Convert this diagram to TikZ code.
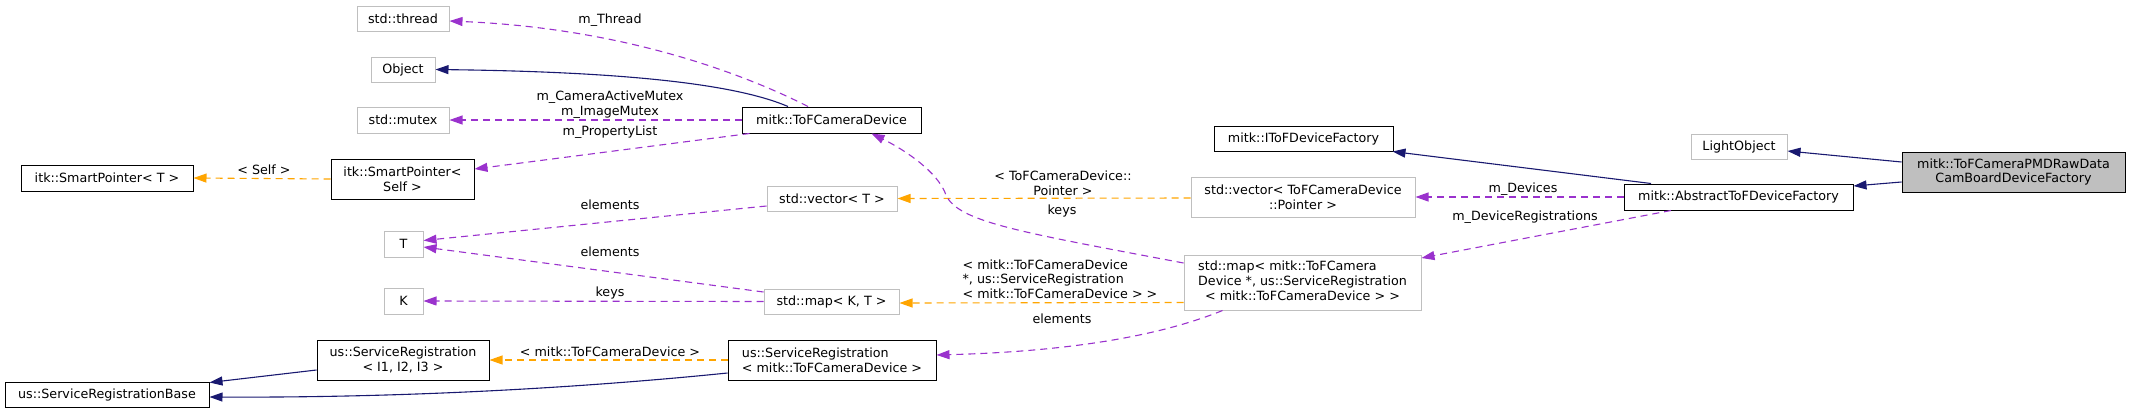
\documentclass[tikz,border=0pt]{standalone}
\usepackage{fontspec}
\setmainfont{DejaVu Sans}
\usetikzlibrary{arrows.meta}
\definecolor{navy}{HTML}{191970}
\definecolor{orchid}{HTML}{9A32CD}
\definecolor{orng}{HTML}{FFA500}
\definecolor{greyS}{HTML}{BFBFBF}
\newcommand\fsz{\fontsize{12.7}{14.7}\selectfont}
\begin{document}
\begin{tikzpicture}[x=1pt,y=-1pt,
  box/.style={rectangle, inner sep=0pt, line width=1pt, font=\fsz, align=center},
  ubox/.style={box, draw=greyS},
  dbox/.style={box, draw=black},
  lbl/.style={inner sep=0pt, font=\fsz, align=center},
  tip/.style={-{Triangle[length=13pt,width=9pt]}},
  inh/.style={tip, draw=navy, line width=1.1pt},
  use/.style={tip, draw=orchid, line width=1.1pt, dash pattern=on 7pt off 5pt},
  tmpl/.style={tip, draw=orng, line width=1.1pt, dash pattern=on 7pt off 5pt}]
\useasboundingbox (0,0) rectangle (2131,413);
% nodes
\node[ubox, minimum width=92pt, minimum height=25pt] (thread) at (403,18.5) {std::thread};
\node[ubox, minimum width=64pt, minimum height=25pt] (object) at (403,69.5) {Object};
\node[ubox, minimum width=92pt, minimum height=26pt] (mutex) at (403,120) {std::mutex};
\node[dbox, minimum width=172pt, minimum height=26pt] (spT) at (107,178) {itk::SmartPointer< T >};
\node[dbox, minimum width=143pt, minimum height=40pt] (spSelf) at (402.5,179) {itk::SmartPointer<\\Self >};
\node[dbox, minimum width=179pt, minimum height=26pt] (tofdev) at (831.5,120) {mitk::ToFCameraDevice};
\node[ubox, minimum width=130pt, minimum height=25pt] (vecT) at (832,198.5) {std::vector< T >};
\node[ubox, minimum width=39pt, minimum height=26pt] (T) at (403.5,244) {T};
\node[ubox, minimum width=39pt, minimum height=26pt] (K) at (403.5,301) {K};
\node[ubox, minimum width=135pt, minimum height=25pt] (mapKT) at (831.5,301.5) {std::map< K, T >};
\node[dbox, minimum width=172pt, minimum height=40pt] (srI) at (403,360) {us::ServiceRegistration\\< I1, I2, I3 >};
\node[dbox, minimum width=204pt, minimum height=25pt] (srBase) at (107,394.5) {us::ServiceRegistrationBase};
\node[dbox, minimum width=208pt, minimum height=40pt, align=left] (srMitk) at (832,360) {us::ServiceRegistration\\< mitk::ToFCameraDevice >};
\node[dbox, minimum width=179pt, minimum height=25pt] (itof) at (1303.5,138.5) {mitk::IToFDeviceFactory};
\node[ubox, minimum width=224pt, minimum height=40pt] (vecP) at (1303,197) {std::vector< ToFCameraDevice\\::Pointer >};
\node[ubox, minimum width=237pt, minimum height=55pt] (mapM) at (1302.5,282.5) {\begin{tabular}{@{}l@{}}std::map< mitk::ToFCamera\\Device *, us::ServiceRegistration\\\multicolumn{1}{@{}c@{}}{< mitk::ToFCameraDevice > >}\end{tabular}};
\node[ubox, minimum width=96pt, minimum height=25pt] (light) at (1739,146.5) {LightObject};
\node[dbox, fill=greyS, minimum width=223pt, minimum height=40pt] (main) at (2013.5,172) {mitk::ToFCameraPMDRawData\\CamBoardDeviceFactory};
\node[dbox, minimum width=229pt, minimum height=26pt] (abstract) at (1738.5,197) {mitk::AbstractToFDeviceFactory};
% edges
\draw[inh] ([shift={(0,-10)}]main.west) -- ([shift={(0,4.5)}]light.east);
\draw[inh] ([shift={(0,10)}]main.west) -- ([shift={(0,-11)}]abstract.east);
\draw[inh] ([shift={(-87.5,0)}]abstract.north) -- ([shift={(-1,0)}]itof.south east);
\draw[use] (abstract.west) -- (vecP.east);
\draw[use] ([shift={(-67.5,0)}]abstract.south) -- ([shift={(0,-24.5)}]mapM.east);
\draw[tmpl] ([shift={(0,1)}]vecP.west) -- (vecT.east);
\draw[tmpl] ([shift={(0,20)}]mapM.west) -- ([shift={(0,1.5)}]mapKT.east);
\draw[use] ([shift={(0,-19.5)}]mapM.west) .. controls (1020,232) and (958,222) .. (946,195) .. controls (938,172) and (905,150) .. ([shift={(40,0)}]tofdev.south);
\draw[use] ([shift={(-80,0)}]mapM.south) .. controls (1150,340) and (1050,352) .. ([shift={(0,-5)}]srMitk.east);
\draw[tmpl] (srMitk.west) -- (srI.east);
\draw[inh] ([shift={(0,13)}]srMitk.west) .. controls (600,386) and (420,398) .. ([shift={(0,2.5)}]srBase.east);
\draw[inh] ([shift={(0,10)}]srI.west) -- ([shift={(0,-12)}]srBase.east);
\draw[use] ([shift={(0,-9.5)}]mapKT.west) -- ([shift={(0,3)}]T.east);
\draw[use] (mapKT.west) -- (K.east);
\draw[use] ([shift={(0,7.5)}]vecT.west) -- ([shift={(0,-3.5)}]T.east);
\draw[use] ([shift={(-23.5,0)}]tofdev.north) .. controls (740,72) and (620,28) .. ([shift={(0,2.5)}]thread.east);
\draw[inh] ([shift={(-43.5,0)}]tofdev.north) .. controls (740,86) and (640,72) .. (object.east);
\draw[use] (tofdev.west) -- (mutex.east);
\draw[use] ([shift={(8,0)}]tofdev.south west) -- ([shift={(0,-10)}]spSelf.east);
\draw[tmpl] (spSelf.west) -- (spT.east);
% labels
\node[lbl] (lThread) at (610,20) {m\_Thread};
\node[lbl] (lMutex) at (610,104.5) {m\_CameraActiveMutex\\m\_ImageMutex};
\node[lbl] (lProp) at (610,132) {m\_PropertyList};
\node[lbl] (lEl1) at (610,205) {elements};
\node[lbl] (lEl2) at (610,252) {elements};
\node[lbl] (lKeys1) at (610,293) {keys};
\node[lbl] (lSelf) at (264,170) {< Self >};
\node[lbl] (lSR) at (610,352) {< mitk::ToFCameraDevice >};
\node[lbl] (lPtr) at (1063,183.5) {< ToFCameraDevice::\\Pointer >};
\node[lbl] (lKeys2) at (1062,211) {keys};
\node[lbl] (lMap) at (1060,281) {\begin{tabular}{@{}l@{}}< mitk::ToFCameraDevice\\{*}, us::ServiceRegistration\\\multicolumn{1}{@{}c@{}}{< mitk::ToFCameraDevice > >}\end{tabular}};
\node[lbl] (lEl3) at (1062,319) {elements};
\node[lbl] (lDev) at (1523,189) {m\_Devices};
\node[lbl] (lDevReg) at (1525,217) {m\_DeviceRegistrations};
\end{tikzpicture}
\end{document}
